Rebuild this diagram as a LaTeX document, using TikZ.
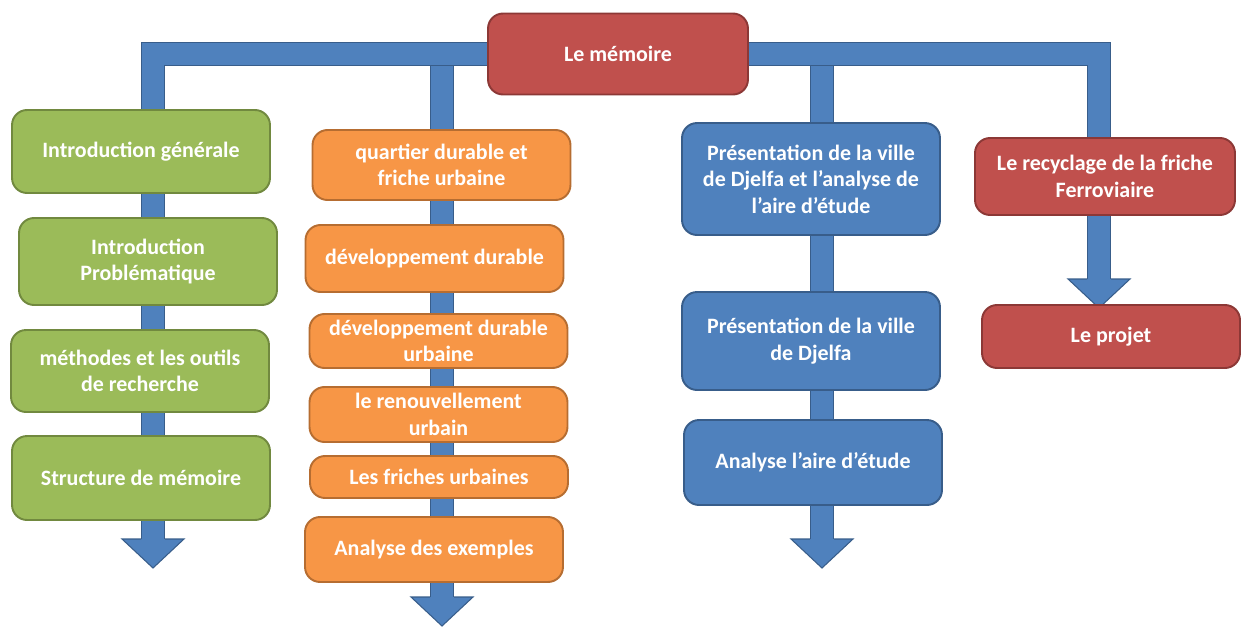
\documentclass[tikz,border=0pt]{standalone}
\usepackage{fontspec}
\setmainfont{Carlito}
\usepackage{xcolor}
\usetikzlibrary{shapes,arrows,backgrounds}

\definecolor{introfill}{HTML}{9BBB59}
\definecolor{introline}{HTML}{71893F}
\definecolor{theoryfill}{HTML}{F79646}
\definecolor{theoryline}{HTML}{B66D31}
\definecolor{sitefill}{HTML}{4F81BD}
\definecolor{siteline}{HTML}{385D8A}
\definecolor{projectfill}{HTML}{C0504D}
\definecolor{projectline}{HTML}{8C3836}

\begin{document}
\begin{tikzpicture}[x=0.02cm, y=-0.02cm]
    % Define styles
    \tikzstyle{box} = [rectangle, rounded corners=0.3cm, line width=1.1pt, text=white, align=center, minimum width=5.16cm, inner sep=1pt, font=\bfseries\fontsize{12.5}{15}\selectfont]
    \tikzstyle{intro} = [box, draw=introline, fill=introfill]
    \tikzstyle{theory} = [box, draw=theoryline, fill=theoryfill]
    \tikzstyle{site} = [box, draw=siteline, fill=sitefill]
    \tikzstyle{project} = [box, draw=projectline, fill=projectfill]
    \tikzstyle{bar} = [draw=siteline, line width=0.6pt, double=sitefill, double distance=0.44cm]

    \useasboundingbox (0,0) rectangle (1242,630);

    % Root
    \node[project, minimum width=5.2cm, minimum height=1.62cm] (memoire) at (618,54) {Le mémoire};

    % Introduction column
    \node[intro, minimum height=1.66cm] (general) at (141,151.5) {Introduction générale};
    \node[intro, minimum height=1.74cm] (problem) at (148,261.5) {Introduction\\Problématique};
    \node[intro, minimum height=1.64cm] (methods) at (140,371) {méthodes et les outils\\de recherche};
    \node[intro, minimum height=1.68cm] (structure) at (141,478) {Structure de mémoire};

    % Theory column
    \node[theory, minimum height=1.40cm] (quartier) at (441.5,165) {quartier durable et\\friche urbaine};
    \node[theory, minimum height=1.34cm] (durable) at (434.5,258.5) {développement durable};
    \node[theory, minimum height=1.08cm] (urbain) at (438.5,341) {développement durable\\urbaine};
    \node[theory, minimum height=1.10cm] (renouv) at (438.5,414.5) {le renouvellement\\urbain};
    \node[theory, minimum height=0.84cm] (friches) at (439,477) {Les friches urbaines};
    \node[theory, minimum height=1.30cm] (exemples) at (434,549.5) {Analyse des exemples};

    % Site column
    \node[site, minimum height=2.24cm] (djelfa) at (811,179) {Présentation de la ville\\de Djelfa et l’analyse de\\l’aire d’étude};
    \node[site, minimum height=1.96cm] (ville) at (811,341) {Présentation de la ville\\de Djelfa};
    \node[site, minimum height=1.70cm] (aire) at (813,462.5) {Analyse l’aire d’étude};

    % Project column
    \node[project, minimum width=5.2cm, minimum height=1.54cm] (recyclage) at (1105,176.5) {Le recyclage de la friche\\Ferroviaire};
    \node[project, minimum height=1.26cm] (projet) at (1111,336.5) {Le projet};

    % Arrow ends
    \coordinate (h1) at (153,539);
    \coordinate (h2) at (442,597);
    \coordinate (h3) at (822,539);
    \coordinate (h4) at (1099,279);

    % Bands behind the boxes
    \begin{scope}[on background layer]
        \draw[bar] (h2 |- memoire.west) -- (h2);
        \draw[bar] (h3 |- memoire.west) -- (h3);
        \draw[bar] (h1) |- (memoire.west);
        \draw[bar] (memoire.east) -| (h4);
        \foreach \h in {h1,h2,h3,h4} {
            \fill[sitefill] (\h) ++(-31,0) -- ++(62,0) -- ++(-31,29) -- cycle;
            \draw[siteline, line width=0.6pt, line join=miter] (\h) ++(-12,0) -- ++(-19,0) -- ++(31,29) -- ++(31,-29) -- ++(-19,0);
        }
    \end{scope}
\end{tikzpicture}
\end{document}
